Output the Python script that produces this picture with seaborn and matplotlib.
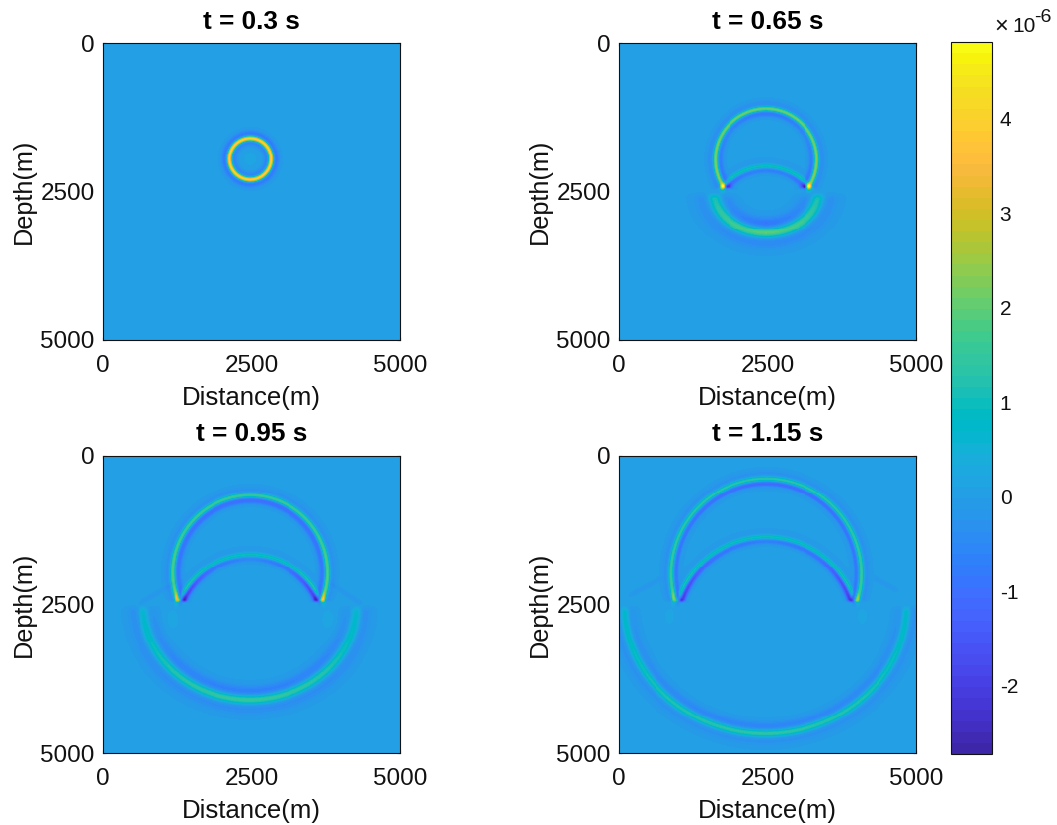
import numpy as np
import pandas as pd
import matplotlib
matplotlib.use('Agg')
import matplotlib.pyplot as plt
import seaborn as sns
from matplotlib.colors import ListedColormap

# MATLAB parula, 64 levels
parula = [
    (0.2422, 0.1504, 0.6603), (0.2504, 0.1650, 0.7076), (0.2578, 0.1818, 0.7511), (0.2647, 0.1978, 0.7952),
    (0.2706, 0.2147, 0.8364), (0.2751, 0.2342, 0.8710), (0.2783, 0.2559, 0.8991), (0.2803, 0.2782, 0.9221),
    (0.2813, 0.3006, 0.9414), (0.2810, 0.3228, 0.9579), (0.2795, 0.3447, 0.9717), (0.2760, 0.3667, 0.9829),
    (0.2699, 0.3892, 0.9906), (0.2602, 0.4123, 0.9952), (0.2440, 0.4358, 0.9988), (0.2206, 0.4603, 0.9973),
    (0.1963, 0.4847, 0.9892), (0.1834, 0.5074, 0.9798), (0.1786, 0.5289, 0.9682), (0.1764, 0.5499, 0.9520),
    (0.1687, 0.5703, 0.9359), (0.1540, 0.5902, 0.9218), (0.1460, 0.6091, 0.9079), (0.1380, 0.6276, 0.8973),
    (0.1248, 0.6459, 0.8883), (0.1113, 0.6635, 0.8763), (0.0952, 0.6798, 0.8598), (0.0689, 0.6948, 0.8394),
    (0.0297, 0.7082, 0.8163), (0.0036, 0.7203, 0.7917), (0.0067, 0.7312, 0.7660), (0.0433, 0.7411, 0.7394),
    (0.0964, 0.7500, 0.7120), (0.1408, 0.7584, 0.6842), (0.1717, 0.7670, 0.6554), (0.1938, 0.7758, 0.6251),
    (0.2161, 0.7843, 0.5923), (0.2470, 0.7918, 0.5567), (0.2906, 0.7973, 0.5188), (0.3406, 0.8008, 0.4789),
    (0.3909, 0.8029, 0.4354), (0.4456, 0.8024, 0.3909), (0.5044, 0.7993, 0.3480), (0.5616, 0.7942, 0.3045),
    (0.6174, 0.7876, 0.2612), (0.6720, 0.7793, 0.2227), (0.7242, 0.7698, 0.1910), (0.7738, 0.7598, 0.1646),
    (0.8203, 0.7498, 0.1535), (0.8634, 0.7406, 0.1596), (0.9035, 0.7330, 0.1774), (0.9393, 0.7288, 0.2100),
    (0.9728, 0.7298, 0.2394), (0.9956, 0.7434, 0.2371), (0.9970, 0.7659, 0.2199), (0.9952, 0.7861, 0.1991),
    (0.9892, 0.8061, 0.1842), (0.9786, 0.8266, 0.1663), (0.9676, 0.8495, 0.1498), (0.9610, 0.8722, 0.1347),
    (0.9597, 0.8949, 0.1159), (0.9628, 0.9207, 0.0855), (0.9691, 0.9513, 0.0527), (0.9769, 0.9839, 0.0805),
]

times = ['0.3', '0.65', '0.95', '1.15']
vmin, vmax = -2.72, 4.81
cbar_ticks = [-2, -1, 0, 1, 2, 3, 4]
axis_ticks = [0, 2500, 5000]

# wavefronts, amplitudes in 1e-6 at apex / middle / end of the arc
# cx, cz, a, b, ang_end, pos, inner, outer, w, zmin, zmax
fronts_030 = [
    (2480, 1950, 350, 350, 180, (4.3, 4.3, 4.3), (-0.6, -0.6, -0.6), (-0.8, -0.8, -0.8), 40, -1, 9000),
]
fronts_065 = [
    (2476, 1960, 856, 856, 123, (2.3, 2.3, 2.6), (-0.9, -0.6, -0.9), (-0.4, -0.4, -0.4), 42, -1, 2450),
    (2476, 3030, 955, 955, 50, (1.1, 1.1, 1.3), (-0.7, -0.7, -1.3), (-0.1, -0.1, -0.1), 38, -1, 2450),
    (2477, 2500, 883, 697, 90, (2.2, 1.8, 1.1), (-0.9, -0.6, -0.3), (-0.5, -0.4, -0.3), 95, 2560, 9000),
]
fronts_095 = [
    (2478, 1961, 1305, 1305, 120, (1.7, 1.8, 2.3), (-1.1, -1.0, -0.8), (-0.3, -0.3, -0.3), 45, -1, 2450),
    (2478, 2962, 1307, 1307, 64, (1.1, 1.1, 1.6), (-0.5, -1.0, -2.0), (-0.1, -0.1, -0.1), 38, -1, 2450),
    (2469, 2500, 1801, 1607, 90, (1.7, 1.4, 0.7), (-0.7, -0.6, -0.2), (-0.4, -0.4, -0.3), 80, 2560, 9000),
]
fronts_115 = [
    (2479, 1979, 1604, 1604, 115, (1.5, 1.5, 1.9), (-1.2, -1.0, -0.8), (-0.3, -0.3, -0.3), 45, -1, 2450),
    (2479, 1979, 1474, 1474, 115, (0.3, 0.3, 0.3), (0, 0, 0), (0, 0, 0), 25, -1, 2450),
    (2479, 2933, 1575, 1575, 71, (1.1, 1.1, 1.4), (-0.7, -1.0, -2.0), (-0.1, -0.1, -0.1), 38, -1, 2450),
    (2465, 2500, 2385, 2180, 90, (1.5, 1.3, 0.8), (-0.6, -0.5, -0.2), (-0.3, -0.3, -0.3), 65, 2560, 9000),
]
# bright and dark spots where the fronts meet the interface: x, z, sx, sz, amp
spots_030 = [(2480, 1950, 170, 170, 0.15)]
spots_065 = [(1733, 2424, 40, 65, 2.0), (3209, 2424, 40, 65, 2.0), (1800, 2424, 28, 40, -1.6), (3135, 2424, 28, 40, -1.6)]
spots_095 = [(1228, 2390, 28, 90, 1.6), (3719, 2390, 28, 90, 1.6), (1296, 2390, 28, 80, -1.4), (3652, 2390, 28, 80, -1.4),
             (1170, 2750, 150, 250, 0.15), (3790, 2750, 150, 250, 0.15)]
spots_115 = [(909, 2390, 28, 90, 1.0), (4023, 2390, 28, 90, 1.0), (986, 2390, 28, 80, -1.4), (3955, 2390, 28, 80, -1.4),
             (850, 2700, 130, 200, 0.15), (4100, 2700, 130, 200, 0.15)]
# faint straight head waves: x1, z1, x2, z2, amp, w
heads_030 = []
heads_065 = []
heads_095 = [(623, 2470, 1212, 2137, -0.2, 30), (4325, 2470, 3820, 2137, -0.2, 30)]
heads_115 = [(185, 2339, 723, 2053, -0.2, 30), (4680, 2255, 4290, 2053, -0.2, 30)]

fronts_all = [fronts_030, fronts_065, fronts_095, fronts_115]
spots_all = [spots_030, spots_065, spots_095, spots_115]
heads_all = [heads_030, heads_065, heads_095, heads_115]

grid = np.linspace(0, 5000, 301)
X, Z = np.meshgrid(grid, grid)


def smooth_edge(v, width=50.0):
    return np.clip(v / width + 0.5, 0, 1)


def make_field(fronts, spots, heads):
    field = np.zeros_like(X)
    for cx, cz, a, b, ang_end, pos, inner, outer, w, zmin, zmax in fronts:
        dx = (X - cx) / a
        dz = (Z - cz) / b
        rho = np.sqrt(dx**2 + dz**2)
        d = (rho - 1) * (a + b) / 2
        # angle from the apex, top for the upper arcs and bottom for the lower one
        sign = 1 if zmin > 0 else -1
        ang = np.degrees(np.arctan2(np.abs(dx), sign * dz))
        stops = [0, ang_end / 2, ang_end]
        p = np.interp(ang, stops, pos)
        i = np.interp(ang, stops, inner)
        o = np.interp(ang, stops, outer)
        wave = p * np.exp(-(d / w)**2)
        wave += i * np.exp(-((d + 1.9 * w) / (1.3 * w))**2)
        wave += o * np.exp(-((d - 1.9 * w) / (1.5 * w))**2)
        field += wave * smooth_edge(Z - zmin, 100.0) * smooth_edge(zmax - Z)
    for x0, z0, sx, sz, amp in spots:
        field += amp * np.exp(-((X - x0) / sx)**2 - ((Z - z0) / sz)**2)
    for x1, z1, x2, z2, amp, w in heads:
        length = np.hypot(x2 - x1, z2 - z1)
        along = ((X - x1) * (x2 - x1) + (Z - z1) * (z2 - z1)) / length
        across = ((X - x1) * (z2 - z1) - (Z - z1) * (x2 - x1)) / length
        field += amp * np.exp(-(across / w)**2) * smooth_edge(along, 100.0) * smooth_edge(length - along, 100.0)
    return field


sns.set_theme(style='ticks')
plt.rcParams['font.family'] = ['Liberation Sans', 'DejaVu Sans']
plt.rcParams['axes.linewidth'] = 0.8
dark = '#111111'

W, H = 1057, 825
fig = plt.figure(figsize=(W / 100, H / 100), dpi=100)
boxes = [(103, 43), (619, 43), (103, 456), (619, 456)]
cax = fig.add_axes([951 / W, 1 - 754 / H, 41 / W, 712 / H])
cmap = ListedColormap(parula)

for n, (x0, y0) in enumerate(boxes):
    ax = fig.add_axes([x0 / W, 1 - (y0 + 297) / H, 297 / W, 297 / H])
    df = pd.DataFrame(make_field(fronts_all[n], spots_all[n], heads_all[n]), index=grid, columns=grid)
    sns.heatmap(df, ax=ax, cmap=cmap, vmin=vmin, vmax=vmax, cbar=(n == 0), cbar_ax=cax if n == 0 else None)
    pos = [t / 5000 * 301 for t in axis_ticks]
    ax.set_xticks(pos)
    ax.set_xticklabels(axis_ticks, rotation=0)
    ax.set_yticks(pos)
    ax.set_yticklabels(axis_ticks, rotation=0, va='center_baseline')
    ax.tick_params(direction='in', length=2.5, width=0.8, top=True, right=True, labelsize=17.5, color=dark, labelcolor=dark)
    ax.tick_params(axis='x', pad=11)
    ax.tick_params(axis='y', pad=6)
    for s in ax.spines.values():
        s.set_visible(True)
        s.set_linewidth(0.8)
        s.set_color(dark)
    ax.set_xlabel('Distance(m)', fontsize=18.5, labelpad=6, color=dark)
    ax.set_ylabel('Depth(m)', fontsize=18.2, labelpad=3.5, color=dark)
    ax.set_title('t = %s s' % times[n], fontsize=18.8, fontweight='bold', pad=10 if n < 2 else 11, color='black')

cb = fig.axes[1].collections[0].colorbar
cb.set_ticks(cbar_ticks)
cb.set_ticklabels([str(t) for t in cbar_ticks])
cb.outline.set_visible(True)
cb.outline.set_linewidth(0.8)
cb.outline.set_edgecolor(dark)
cax.tick_params(direction='in', length=5.5, width=0.8, labelsize=15, pad=5.5, color=dark, labelcolor=dark, right=True, left=False)

fig.text(994 / W, 1 - 33 / H, '\u00d7', fontsize=17, ha='left', va='baseline', color=dark)
fig.text(1012 / W, 1 - 32 / H, '10', fontsize=15, ha='left', va='baseline', color=dark)
fig.text(1034 / W, 1 - 22 / H, '-6', fontsize=14, ha='left', va='baseline', color=dark)

fig.savefig('out.png', dpi=100)
